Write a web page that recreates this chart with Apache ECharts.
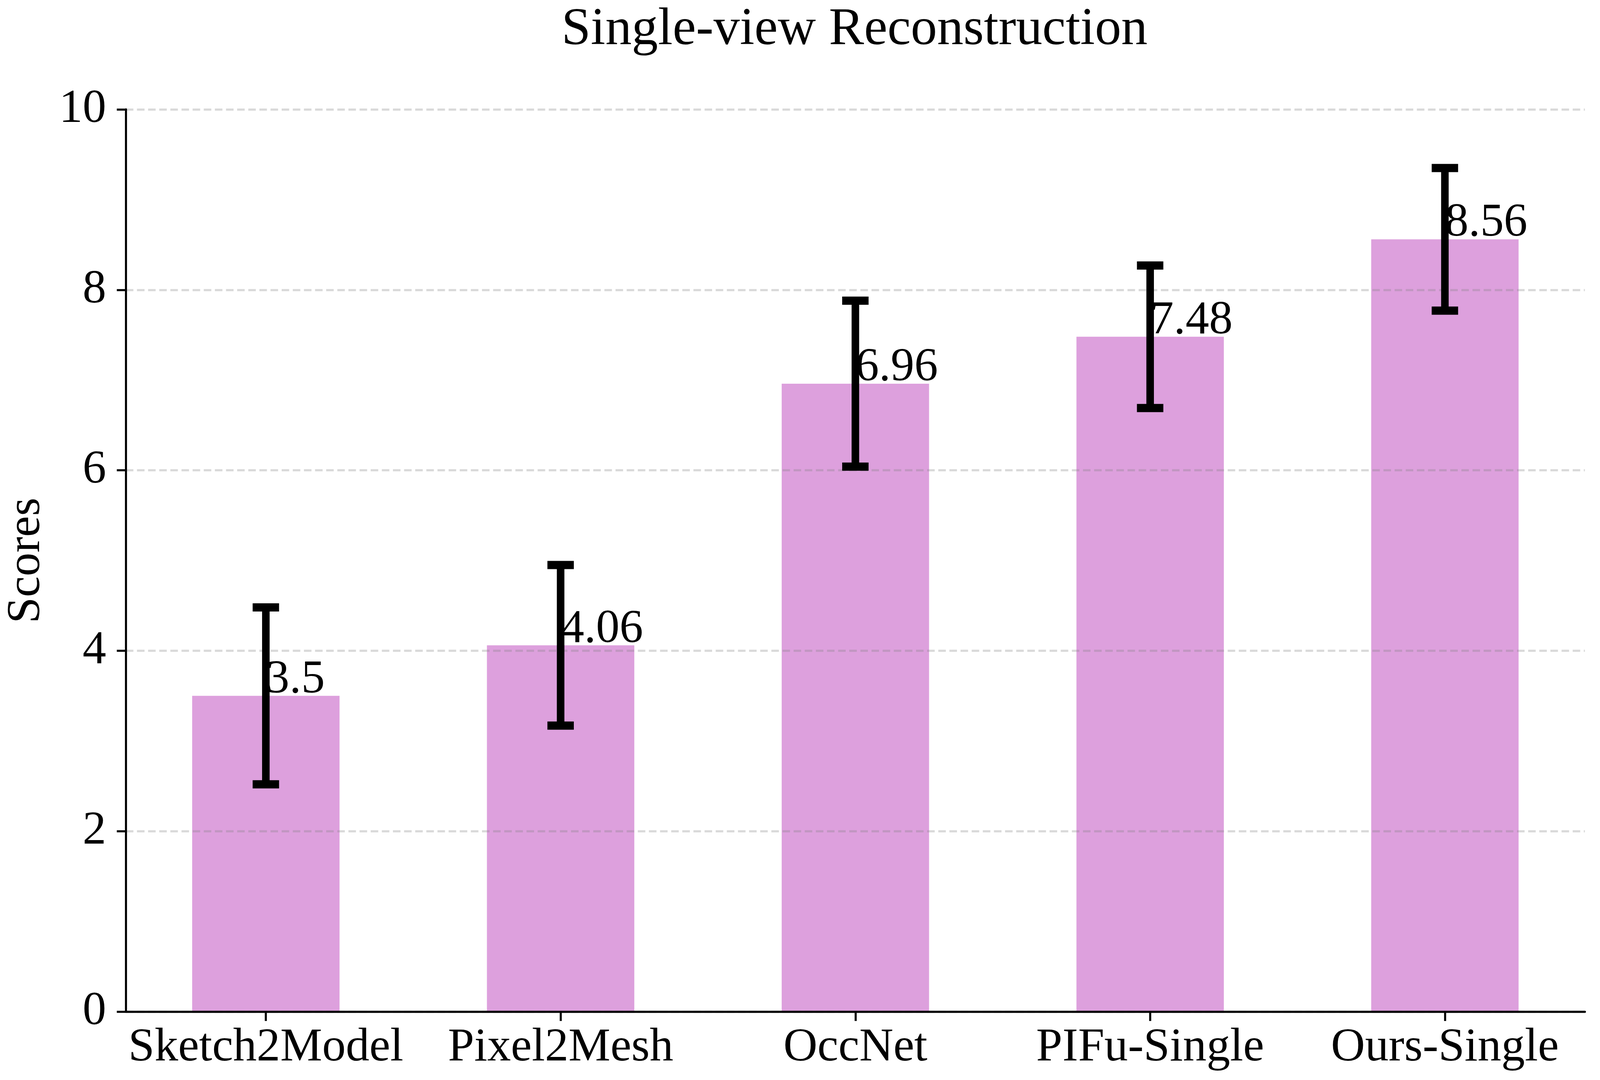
<!DOCTYPE html>
<html>
<head>
<meta charset="utf-8">
<script src="https://cdn.jsdelivr.net/npm/echarts@6/dist/echarts.min.js"></script>
<style>
html,body{margin:0;padding:0;background:#fff;overflow:hidden;}
#chart{position:absolute;left:0;top:0;}
</style>
</head>
<body>
<div id="chart"></div>
<script>
const categories = ['Sketch2Model', 'Pixel2Mesh', 'OccNet', 'PIFu-Single', 'Ours-Single'];
const scores = [3.5, 4.06, 6.96, 7.48, 8.56];
const errors = [0.98, 0.89, 0.92, 0.79, 0.79];
const titleText = 'Single-view Reconstruction';
const yName = 'Scores';

const FONT = "'Liberation Serif', 'Times New Roman', serif";
const barColor = '#DDA0DD';

// fit the 4241x2764 design into the actual viewport
const W = document.documentElement.clientWidth || window.innerWidth;
const H = document.documentElement.clientHeight || window.innerHeight;
const sx = W / 4241, sy = H / 2764, s = Math.min(sx, sy);
const el = document.getElementById('chart');
el.style.width = W + 'px';
el.style.height = H + 'px';

const FS = 125 * s;
const positions = categories.map((c, i) => i);
const barData = categories.map((c, i) => [i, scores[i]]);
const errData = categories.map((c, i) => [i, scores[i] - errors[i], scores[i] + errors[i]]);

const chart = echarts.init(el, null, {renderer: 'canvas', width: W, height: H});

const option = {
  animation: false,
  backgroundColor: '#ffffff',
  grid: {left: 330 * sx, right: 40 * sx, top: 280 * sy, bottom: 175 * sy, containLabel: false},
  graphic: [{
    type: 'text',
    x: 2265 * sx,
    y: 78 * sy,
    style: {text: titleText, font: (139.5 * s) + 'px ' + FONT, fill: '#000', align: 'center', verticalAlign: 'middle'}
  }],
  xAxis: {
    type: 'value',
    min: -0.475,
    max: 4.475,
    z: 2,
    axisLine: {show: true, onZero: false, lineStyle: {color: '#000', width: 5.5 * s}},
    axisTick: {show: true, customValues: positions, length: 24 * sy, lineStyle: {color: '#000', width: 5.5 * s}},
    axisLabel: {
      show: true,
      customValues: positions,
      margin: 33 * sy,
      color: '#000',
      fontFamily: FONT,
      fontSize: FS,
      formatter: function (v) { return categories[Math.round(v)]; }
    },
    splitLine: {show: false}
  },
  yAxis: {
    type: 'value',
    min: 0,
    max: 10,
    interval: 2,
    z: 2,
    name: yName,
    nameLocation: 'middle',
    nameGap: 200 * sx,
    nameTextStyle: {color: '#000', fontFamily: FONT, fontSize: FS},
    axisLine: {show: true, onZero: false, lineStyle: {color: '#000', width: 5.5 * s}},
    axisTick: {show: true, length: 24 * sx, lineStyle: {color: '#000', width: 5.5 * s}},
    axisLabel: {margin: 52 * sx, color: '#000', fontFamily: FONT, fontSize: FS},
    splitLine: {show: true, lineStyle: {color: 'rgba(128,128,128,0.3)', width: 5.5 * s, type: [20 * s, 9.5 * s]}}
  },
  series: [
    {
      type: 'custom',
      z: 1,
      data: barData,
      encode: {x: 0, y: 1},
      renderItem: function (params, api) {
        const x = api.value(0), y = api.value(1);
        const p = api.coord([x, y]);
        const p0 = api.coord([x, 0]);
        const w = api.size([0.5, 0])[0];
        return {type: 'rect', shape: {x: p[0] - w / 2, y: p[1], width: w, height: p0[1] - p[1]}, style: {fill: barColor}};
      }
    },
    {
      type: 'custom',
      z: 3,
      data: errData,
      encode: {x: 0, y: [1, 2]},
      renderItem: function (params, api) {
        const x = api.value(0);
        const lo = api.coord([x, api.value(1)]);
        const hi = api.coord([x, api.value(2)]);
        const cx = lo[0];
        const half = 35 * sx, capT = 21 * sy, lw = 20 * sx;
        return {
          type: 'group',
          children: [
            {type: 'rect', shape: {x: cx - lw / 2, y: hi[1], width: lw, height: lo[1] - hi[1]}, style: {fill: '#000'}},
            {type: 'rect', shape: {x: cx - half, y: hi[1] - capT / 2, width: half * 2, height: capT}, style: {fill: '#000'}},
            {type: 'rect', shape: {x: cx - half, y: lo[1] - capT / 2, width: half * 2, height: capT}, style: {fill: '#000'}}
          ]
        };
      }
    },
    {
      type: 'custom',
      z: 4,
      data: barData,
      encode: {x: 0, y: 1},
      renderItem: function (params, api) {
        const x = api.value(0), y = api.value(1);
        const p = api.coord([x, y]);
        return {
          type: 'text',
          style: {
            text: String(y),
            x: p[0],
            y: p[1] - 0.3375 * FS,
            align: 'left',
            verticalAlign: 'middle',
            font: FS + 'px ' + FONT,
            fill: '#000'
          }
        };
      }
    }
  ]
};
chart.setOption(option);
</script>
</body>
</html>
